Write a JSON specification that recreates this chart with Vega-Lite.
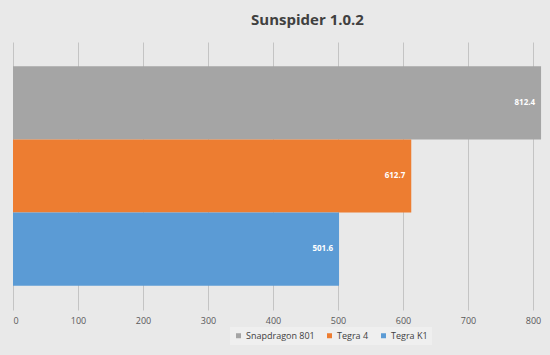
{
  "$schema": "https://vega.github.io/schema/vega-lite/v6.json",
  "autosize": "none",
  "width": 533,
  "height": 268,
  "padding": {"left": 13, "top": 42, "right": 4, "bottom": 45},
  "background": "#e9e9e9",
  "title": {
    "text": "Sunspider 1.0.2",
    "font": "Open Sans",
    "fontSize": 15,
    "fontWeight": "bold",
    "color": "#404040",
    "anchor": "middle",
    "dx": 28,
    "offset": 14
  },
  "config": {
    "view": {"stroke": null},
    "font": "Open Sans"
  },
  "data": {
    "values": [
      {"chip": "Snapdragon 801", "score": 812.4},
      {"chip": "Tegra 4", "score": 612.7},
      {"chip": "Tegra K1", "score": 501.6}
    ]
  },
  "encoding": {
    "y": {
      "field": "chip",
      "type": "nominal",
      "sort": ["Snapdragon 801", "Tegra 4", "Tegra K1"],
      "scale": {"paddingInner": 0, "paddingOuter": 0.33},
      "axis": null
    },
    "x": {
      "field": "score",
      "type": "quantitative",
      "scale": {"domain": [0, 820], "nice": false},
      "axis": {
        "title": null,
        "values": [0, 100, 200, 300, 400, 500, 600, 700, 800],
        "domain": false,
        "ticks": false,
        "grid": true,
        "gridColor": "#c4c4c4",
        "gridWidth": 1,
        "labelFont": "Open Sans",
        "labelFontSize": 9,
        "labelColor": "#595959",
        "labelPadding": 6
      }
    }
  },
  "layer": [
    {
      "mark": {"type": "bar"},
      "encoding": {
        "color": {
          "field": "chip",
          "type": "nominal",
          "scale": {
            "domain": ["Snapdragon 801", "Tegra 4", "Tegra K1"],
            "range": ["#a5a5a5", "#ed7d31", "#5b9bd5"]
          },
          "legend": {
            "title": null,
            "orient": "none",
            "direction": "horizontal",
            "legendX": 217,
            "legendY": 285,
            "symbolType": "square",
            "symbolSize": 25,
            "symbolStrokeWidth": 0,
            "labelFont": "Open Sans",
            "labelFontSize": 9,
            "labelColor": "#404040",
            "columnPadding": 10,
            "labelOffset": 3,
            "fillColor": "#efefef",
            "padding": 4
          }
        }
      }
    },
    {
      "mark": {
        "type": "text",
        "align": "right",
        "baseline": "middle",
        "dx": -6,
        "color": "white",
        "font": "Open Sans",
        "fontSize": 8,
        "fontWeight": "bold"
      },
      "encoding": {
        "text": {"field": "score", "type": "quantitative", "format": ".1f"}
      }
    }
  ]
}
